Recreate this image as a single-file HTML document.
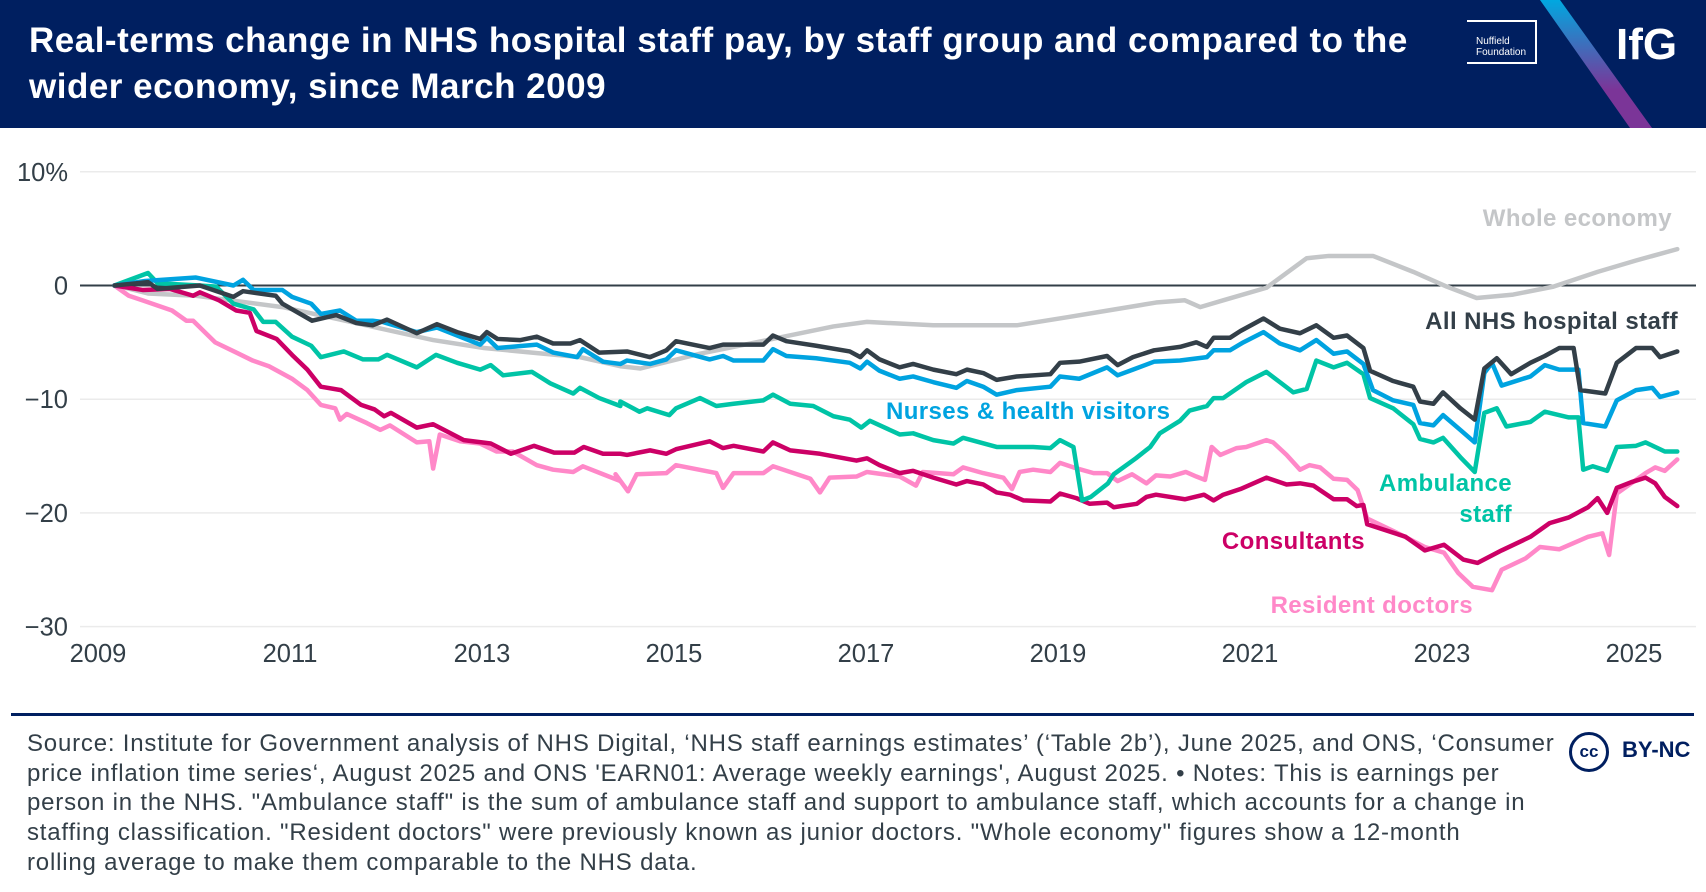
<!DOCTYPE html>
<html><head><meta charset="utf-8"><style>
html,body{margin:0;padding:0;background:#fff;}
body{width:1706px;height:892px;overflow:hidden;font-family:"Liberation Sans",sans-serif;position:relative;}
#header{position:absolute;left:0;top:0;width:1706px;height:128px;background:#001f60;overflow:hidden;}
#title{position:absolute;left:29px;top:18px;color:#fff;font-weight:bold;font-size:35px;line-height:46px;letter-spacing:0.5px;white-space:nowrap;}
#footer-text{position:absolute;left:27px;top:729px;font-size:24px;line-height:29.7px;color:#333f48;letter-spacing:0.8px;white-space:nowrap;}
</style></head><body>
<div id="header">
  <div id="title">Real-terms change in NHS hospital staff pay, by staff group and compared to the<br>wider economy, since March 2009</div>
  <div style="position:absolute;left:1467px;top:20px;width:68px;height:40px;border:2px solid #fff;border-left:none;"></div>
  <div style="position:absolute;left:1476px;top:36px;color:#fff;font-size:10px;line-height:11px;">Nuffield<br>Foundation</div>
  <svg style="position:absolute;left:0;top:0" width="1706" height="128">
    <defs><linearGradient id="g" x1="0" y1="0" x2="0" y2="1"><stop offset="0" stop-color="#00a8e0"/><stop offset="0.7" stop-color="#7b3598"/><stop offset="1" stop-color="#7b3598"/></linearGradient></defs>
    <polygon points="1540,0 1560,0 1652,128 1630,128" fill="url(#g)"/>
  </svg>
  <div style="position:absolute;left:1616px;top:20px;color:#fff;font-weight:bold;font-size:44px;">IfG</div>
</div>
<svg id="chart" width="1706" height="892" style="position:absolute;left:0;top:0;pointer-events:none"></svg>
<div style="position:absolute;left:11px;top:713px;width:1683px;height:3px;background:#001f60"></div>
<div id="footer-text">Source: Institute for Government analysis of NHS Digital, ‘NHS staff earnings estimates’ (‘Table 2b’), June 2025, and ONS, ‘Consumer<br>price inflation time series‘, August 2025 and ONS 'EARN01: Average weekly earnings', August 2025. • Notes: This is earnings per<br>person in the NHS. "Ambulance staff" is the sum of ambulance staff and support to ambulance staff, which accounts for a change in<br>staffing classification. "Resident doctors" were previously known as junior doctors. "Whole economy" figures show a 12-month<br>rolling average to make them comparable to the NHS data.</div>
<div style="position:absolute;left:1569px;top:732px;width:34px;height:34px;border:3px solid #001f60;border-radius:50%;color:#001f60;font-weight:bold;font-size:17px;line-height:34px;text-align:center;">cc</div>
<div style="position:absolute;left:1622px;top:737px;color:#001f60;font-weight:bold;font-size:22px;">BY-NC</div>
<script>
const yTicks=[10,0,-10,-20,-30];
const yTickLabels=["10%","0","−10","−20","−30"];
const xTicks=[2009,2011,2013,2015,2017,2019,2021,2023,2025];
const wholeT=[2009.17,2009.5,2010,2010.9,2011.5,2012.47,2013,2013.5,2014,2014.42,2014.63,2015.25,2015.95,2016.64,2016.99,2017.68,2018.55,2019.07,2019.5,2020,2020.3,2020.46,2020.7,2021.15,2021.57,2021.8,2022.26,2022.68,2023.03,2023.34,2023.72,2024.14,2024.6,2025,2025.43];
const wholeV=[0,-0.7,-0.9,-1.9,-3,-4.8,-5.5,-5.9,-6.3,-7.1,-7.3,-6,-4.8,-3.6,-3.2,-3.5,-3.5,-2.8,-2.2,-1.5,-1.3,-1.9,-1.3,-0.2,2.4,2.6,2.6,1.2,-0.1,-1.1,-0.8,-0.1,1.2,2.2,3.2];
const allT=[2009.15,2009.5,2009.6,2010.04,2010.39,2010.49,2010.83,2010.9,2011.21,2011.46,2011.67,2011.84,2011.99,2012.3,2012.51,2012.72,2012.96,2013.03,2013.14,2013.38,2013.55,2013.72,2013.9,2014.0,2014.2,2014.49,2014.73,2014.9,2015.0,2015.35,2015.49,2015.91,2016.01,2016.15,2016.46,2016.81,2016.92,2016.99,2017.12,2017.33,2017.47,2017.68,2017.92,2018.03,2018.2,2018.34,2018.55,2018.9,2019.0,2019.2,2019.49,2019.6,2019.76,2019.98,2020.25,2020.42,2020.53,2020.6,2020.77,2020.88,2021.12,2021.29,2021.5,2021.67,2021.85,2021.99,2022.16,2022.23,2022.47,2022.68,2022.75,2022.89,2022.99,2023.17,2023.32,2023.42,2023.55,2023.7,2023.9,2024.05,2024.2,2024.35,2024.42,2024.68,2024.8,2025.0,2025.17,2025.25,2025.43];
const allV=[0,0.3,-0.3,0,-1,-0.5,-0.9,-1.6,-3.1,-2.6,-3.3,-3.5,-3,-4.2,-3.4,-4.1,-4.7,-4.1,-4.7,-4.8,-4.5,-5.1,-5.1,-4.8,-5.9,-5.8,-6.3,-5.7,-4.9,-5.5,-5.2,-5.2,-4.4,-4.9,-5.3,-5.8,-6.3,-5.7,-6.5,-7.2,-6.9,-7.4,-7.8,-7.4,-7.7,-8.3,-8,-7.8,-6.8,-6.7,-6.2,-7,-6.3,-5.7,-5.4,-5,-5.4,-4.6,-4.6,-4,-2.9,-3.8,-4.2,-3.5,-4.6,-4.4,-5.5,-7.5,-8.4,-8.9,-10.2,-10.4,-9.4,-10.8,-11.8,-7.3,-6.4,-7.8,-6.8,-6.2,-5.5,-5.5,-9.2,-9.5,-6.8,-5.5,-5.5,-6.3,-5.8];
const nurseT=[2009.15,2009.47,2010.0,2010.39,2010.49,2010.6,2010.9,2011.0,2011.2,2011.3,2011.5,2011.67,2011.84,2011.94,2012.3,2012.51,2012.96,2013.03,2013.14,2013.55,2013.72,2013.97,2014.03,2014.24,2014.42,2014.49,2014.73,2014.9,2015.0,2015.35,2015.49,2015.6,2015.91,2016.01,2016.15,2016.46,2016.81,2016.92,2016.99,2017.12,2017.33,2017.47,2017.68,2017.92,2018.03,2018.2,2018.34,2018.55,2018.9,2019.0,2019.2,2019.49,2019.6,2019.76,2019.98,2020.25,2020.53,2020.6,2020.77,2020.91,2021.12,2021.29,2021.5,2021.67,2021.85,2021.99,2022.16,2022.26,2022.47,2022.68,2022.75,2022.89,2022.99,2023.17,2023.32,2023.42,2023.5,2023.6,2023.9,2024.05,2024.2,2024.4,2024.45,2024.68,2024.8,2025.0,2025.17,2025.25,2025.43];
const nurseV=[0,0.4,0.7,0,0.5,-0.4,-0.4,-1,-1.6,-2.5,-2.2,-3.1,-3.1,-3.2,-4.1,-3.7,-5.2,-4.6,-5.5,-5.2,-5.9,-6.3,-5.6,-6.7,-6.9,-6.6,-6.9,-6.5,-5.7,-6.5,-6.2,-6.6,-6.6,-5.6,-6.2,-6.4,-6.8,-7.3,-6.7,-7.5,-8.2,-8,-8.5,-9,-8.4,-8.9,-9.6,-9.2,-8.9,-8,-8.2,-7.2,-7.9,-7.4,-6.7,-6.6,-6.3,-5.7,-5.7,-5,-4.1,-5.1,-5.7,-4.8,-6,-5.8,-6.9,-9.2,-10.1,-10.5,-12.1,-12.3,-11.4,-12.7,-13.8,-7.7,-6.8,-8.8,-8,-7,-7.4,-7.4,-12.1,-12.4,-10.1,-9.2,-9,-9.8,-9.4];
const ambT=[2009.15,2009.5,2009.6,2010.04,2010.21,2010.39,2010.6,2010.7,2010.83,2011.0,2011.2,2011.3,2011.54,2011.74,2011.9,2011.99,2012.3,2012.5,2012.72,2012.96,2013.07,2013.2,2013.5,2013.69,2013.93,2014.0,2014.2,2014.42,2014.42,2014.62,2014.7,2014.93,2015.0,2015.25,2015.42,2015.6,2015.91,2016.01,2016.19,2016.43,2016.64,2016.81,2016.93,2017.02,2017.33,2017.47,2017.68,2017.89,2017.99,2018.34,2018.72,2018.9,2019.0,2019.14,2019.23,2019.32,2019.5,2019.56,2019.79,2019.94,2020.04,2020.25,2020.35,2020.53,2020.6,2020.7,2020.94,2021.15,2021.29,2021.43,2021.57,2021.67,2021.85,2021.99,2022.16,2022.23,2022.47,2022.68,2022.75,2022.89,2022.99,2023.17,2023.32,2023.42,2023.55,2023.65,2023.9,2024.05,2024.3,2024.4,2024.45,2024.55,2024.7,2024.8,2025.0,2025.1,2025.3,2025.43];
const ambV=[0,1.1,0.2,0,-0.1,-1.6,-2.1,-3.2,-3.2,-4.5,-5.3,-6.3,-5.8,-6.5,-6.5,-6.1,-7.2,-6.1,-6.8,-7.4,-7,-7.9,-7.6,-8.6,-9.5,-9,-9.9,-10.6,-10.2,-11.1,-10.8,-11.4,-10.8,-9.9,-10.6,-10.4,-10.1,-9.6,-10.4,-10.6,-11.5,-11.8,-12.5,-11.9,-13.1,-13,-13.6,-13.9,-13.4,-14.2,-14.2,-14.3,-13.6,-14.2,-18.9,-18.6,-17.4,-16.6,-15.2,-14.2,-13,-11.9,-11,-10.6,-9.9,-9.9,-8.5,-7.6,-8.5,-9.4,-9.1,-6.6,-7.2,-6.8,-7.8,-9.9,-10.8,-12.2,-13.5,-13.8,-13.4,-15.1,-16.4,-11.2,-10.8,-12.4,-12,-11.1,-11.6,-11.6,-16.2,-15.9,-16.3,-14.2,-14.1,-13.8,-14.6,-14.6];
const conT=[2009.15,2009.45,2009.73,2009.97,2010.04,2010.24,2010.42,2010.56,2010.63,2010.84,2011.0,2011.16,2011.3,2011.51,2011.72,2011.86,2011.96,2012.03,2012.3,2012.47,2012.79,2013.07,2013.28,2013.52,2013.73,2013.94,2014.04,2014.24,2014.42,2014.49,2014.73,2014.9,2015.0,2015.35,2015.49,2015.6,2015.91,2016.01,2016.19,2016.5,2016.88,2016.99,2017.12,2017.33,2017.47,2017.68,2017.92,2018.03,2018.2,2018.34,2018.48,2018.62,2018.9,2019.0,2019.17,2019.31,2019.49,2019.56,2019.8,2019.9,2020.0,2020.3,2020.5,2020.6,2020.7,2020.88,2021.15,2021.36,2021.5,2021.64,2021.85,2021.99,2022.09,2022.16,2022.2,2022.6,2022.8,2023.0,2023.2,2023.35,2023.6,2023.9,2024.1,2024.3,2024.5,2024.6,2024.7,2024.8,2024.95,2025.1,2025.2,2025.3,2025.43];
const conV=[0,-0.4,-0.3,-0.9,-0.6,-1.3,-2.2,-2.4,-4,-4.7,-6.1,-7.4,-8.9,-9.2,-10.5,-10.9,-11.5,-11.2,-12.5,-12.2,-13.6,-13.9,-14.8,-14.1,-14.7,-14.7,-14.2,-14.8,-14.8,-14.9,-14.5,-14.8,-14.4,-13.7,-14.3,-14.1,-14.6,-13.8,-14.5,-14.8,-15.4,-15.2,-15.8,-16.5,-16.3,-16.9,-17.5,-17.2,-17.5,-18.2,-18.4,-18.9,-19,-18.3,-18.7,-19.2,-19.1,-19.5,-19.2,-18.6,-18.4,-18.8,-18.4,-18.9,-18.4,-17.9,-16.9,-17.5,-17.4,-17.6,-18.8,-18.8,-19.4,-19.3,-21,-22.1,-23.3,-22.8,-24.1,-24.4,-23.3,-22.1,-20.9,-20.4,-19.5,-18.7,-20,-17.8,-17.3,-16.9,-17.4,-18.6,-19.4];
const resT=[2009.15,2009.3,2009.44,2009.75,2009.9,2009.97,2010.2,2010.42,2010.59,2010.76,2011.0,2011.16,2011.3,2011.45,2011.5,2011.57,2011.78,2011.92,2012.02,2012.3,2012.43,2012.47,2012.54,2012.75,2012.96,2013.13,2013.3,2013.55,2013.72,2013.93,2014.03,2014.24,2014.42,2014.37,2014.5,2014.59,2014.9,2015.0,2015.42,2015.49,2015.6,2015.91,2016.01,2016.19,2016.4,2016.5,2016.6,2016.88,2016.99,2017.33,2017.5,2017.57,2017.89,2017.99,2018.2,2018.41,2018.5,2018.58,2018.72,2018.9,2019.0,2019.14,2019.35,2019.49,2019.6,2019.75,2019.9,2020.0,2020.15,2020.31,2020.42,2020.51,2020.58,2020.67,2020.84,2020.94,2021.15,2021.22,2021.36,2021.5,2021.6,2021.71,2021.85,2021.99,2022.1,2022.2,2022.5,2022.8,2023.0,2023.15,2023.3,2023.5,2023.6,2023.85,2024.0,2024.2,2024.5,2024.65,2024.72,2024.8,2024.95,2025.1,2025.2,2025.3,2025.43];
const resV=[0,-0.9,-1.3,-2.2,-3.1,-3.1,-5,-5.9,-6.6,-7.1,-8.2,-9.2,-10.5,-10.8,-11.8,-11.3,-12.1,-12.7,-12.3,-13.8,-13.7,-16.1,-13.1,-13.7,-13.9,-14.6,-14.6,-15.8,-16.2,-16.4,-15.9,-16.6,-17.2,-16.6,-18.1,-16.6,-16.5,-15.8,-16.5,-17.8,-16.5,-16.5,-15.9,-16.4,-17,-18.2,-16.9,-16.8,-16.4,-16.8,-17.6,-16.4,-16.6,-16,-16.5,-16.9,-17.9,-16.4,-16.2,-16.4,-15.6,-16,-16.5,-16.5,-17.2,-16.6,-17.4,-16.7,-16.8,-16.4,-16.8,-17.1,-14.2,-14.9,-14.3,-14.2,-13.6,-13.8,-14.9,-16.2,-15.8,-16,-17,-17.1,-18,-20.5,-21.7,-23,-23.5,-25.3,-26.5,-26.8,-25,-24,-23,-23.2,-22.1,-21.8,-23.7,-18.3,-17.4,-16.5,-16,-16.3,-15.3];

const NS="http://www.w3.org/2000/svg";
const svg=document.getElementById('chart');
const X=t=>100+96*(t-2009);
const Y=v=>285.5-11.37*v;
function mk(tag,attrs){const e=document.createElementNS(NS,tag);for(const k in attrs)e.setAttribute(k,attrs[k]);svg.appendChild(e);return e;}
yTicks.forEach((v,i)=>{
  const l=mk('line',{x1:80,x2:1696,y1:Y(v),y2:Y(v),stroke:v===0?'#333f48':'#ebebeb','stroke-width':v===0?2:1.5});
  
  
  const t=mk('text',{x:68,y:Y(v)+9,'text-anchor':'end','font-size':25.5,fill:'#333f48','font-family':'Liberation Sans, sans-serif'});
  t.textContent=yTickLabels[i];
  
  
});
xTicks.forEach(yr=>{
  const t=mk('text',{x:X(yr)-2,y:662,'text-anchor':'middle','font-size':25.5,fill:'#333f48','font-family':'Liberation Sans, sans-serif'});
  t.textContent=yr;
  
  
});
function series(T,V,color,name){
  const p=mk('polyline',{points:T.map((t,i)=>X(t)+','+Y(V[i])).join(' '),fill:'none',stroke:color,'stroke-width':4.5,'stroke-linejoin':'round','stroke-linecap':'round'});
  
  
}
series(wholeT,wholeV,'#c4c6c8','whole-economy-line');
series(resT,resV,'#ff88c8','resident-doctors-line');
series(conT,conV,'#cc0066','consultants-line');
series(ambT,ambV,'#00c4a6','ambulance-staff-line');
series(nurseT,nurseV,'#00a3e0','nurses-line');
series(allT,allV,'#333f48','all-nhs-line');
function label(txt,x,y,color,anchor,name){
  const t=mk('text',{x:x,y:y,'text-anchor':anchor,'font-size':24,'font-weight':'bold',fill:color,'font-family':'Liberation Sans, sans-serif','letter-spacing':0.4});
  t.textContent=txt;
  
  
}
label('Whole economy',1672,226,'#c4c6c8','end','whole-economy-label');
label('All NHS hospital staff',1678,329,'#333f48','end','all-nhs-label');
label('Nurses & health visitors',886,419,'#00a3e0','start','nurses-label');
label('Ambulance',1512,491,'#00c4a6','end','ambulance-label-1');
label('staff',1512,522,'#00c4a6','end','ambulance-label-2');
label('Consultants',1365,549,'#cc0066','end','consultants-label');
label('Resident doctors',1473,613,'#ff88c8','end','resident-doctors-label');
</script>
</body></html>
